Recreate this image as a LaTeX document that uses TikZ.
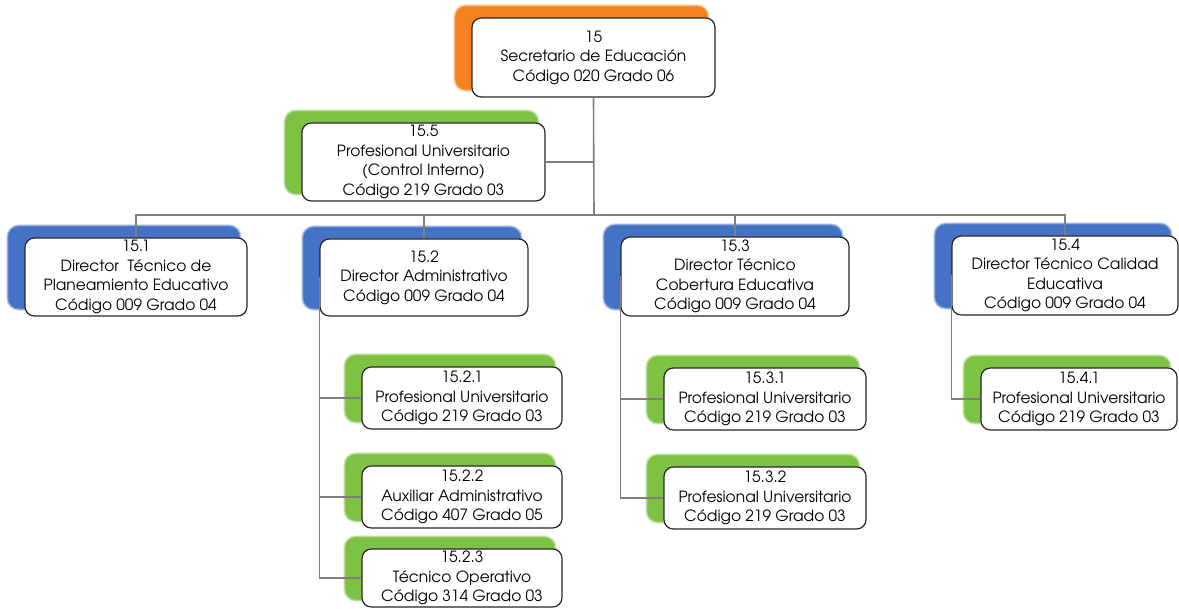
\documentclass[tikz,border=0pt]{standalone}
\usepackage{fontspec}
\setmainfont{texgyreadventor}[Extension=.otf,UprightFont=*-regular,BoldFont=*-bold]
\usetikzlibrary{backgrounds}
\definecolor{naranja}{RGB}{245,130,32}
\definecolor{azul}{RGB}{68,114,196}
\definecolor{verde}{RGB}{125,194,66}
\definecolor{linea}{RGB}{127,127,127}
\tikzset{
  cargo/.style 2 args={draw=black!85, fill=white, rounded corners=7pt, line width=0.9pt,
    align=center, inner sep=0pt, minimum width={#1*0.75pt}, minimum height={#2*0.75pt},
    font=\fontsize{11.6}{14.6}\selectfont},
  conector/.style={draw=linea, line width=1.2pt}
}
% sombra de color detras de cada cargo
\newcommand{\sombra}[2]{%
  \fill[#2!30, rounded corners=9pt] ([shift={(-18,-13)}]#1.north west) rectangle ([shift={(-6,-6)}]#1.south east);
  \fill[#2!70, rounded corners=8.5pt] ([shift={(-17,-12)}]#1.north west) rectangle ([shift={(-7,-7)}]#1.south east);
  \fill[#2, rounded corners=8pt] ([shift={(-16,-11)}]#1.north west) rectangle ([shift={(-8,-8)}]#1.south east);}
\begin{document}
\begin{tikzpicture}[x=0.75pt, y=-0.75pt]
\useasboundingbox (0,0) rectangle (1179,609);
% Secretario
\node[cargo={243}{79}] (n15) at (593.5,57.5) {15\\Secretario de Educación\\Código 020 Grado 06};
% Control interno
\node[cargo={243}{78}] (n155) at (423.5,162) {15.5\\Profesional Universitario\\(Control Interno)\\Código 219 Grado 03};
% Directores
\node[cargo={222}{78}] (n151) at (136,277) {15.1\\Director~ Técnico de\\Planeamiento Educativo\\Código 009 Grado 04};
\node[cargo={208}{77}] (n152) at (424,277.5) {15.2\\Director Administrativo\\Código 009 Grado 04};
\node[cargo={228}{79}] (n153) at (735,276.5) {15.3\\Director Técnico\\Cobertura Educativa\\Código 009 Grado 04};
\node[cargo={226}{79}] (n154) at (1065,275.5) {15.4\\Director Técnico Calidad\\Educativa\\Código 009 Grado 04};
% Dependencias
\node[cargo={200}{62}] (n1521) at (462,398) {15.2.1\\Profesional Universitario\\Código 219 Grado 03};
\node[cargo={200}{62}] (n1522) at (462,497) {15.2.2\\Auxiliar Administrativo\\Código 407 Grado 05};
\node[cargo={200}{58}] (n1523) at (462,578) {15.2.3\\Técnico Operativo\\Código 314 Grado 03};
\node[cargo={202}{62}] (n1531) at (765,399) {15.3.1\\Profesional Universitario\\Código 219 Grado 03};
\node[cargo={202}{62}] (n1532) at (765,498) {15.3.2\\Profesional Universitario\\Código 219 Grado 03};
\node[cargo={196}{62}] (n1541) at (1079,399) {15.4.1\\Profesional Universitario\\Código 219 Grado 03};
% sombras
\begin{pgfonlayer}{background}
\foreach \n/\c in {n15/naranja,n155/verde,n151/azul,n152/azul,n153/azul,n154/azul,
  n1521/verde,n1522/verde,n1523/verde,n1531/verde,n1532/verde,n1541/verde}
  {\sombra{\n}{\c}}
\end{pgfonlayer}
% lineas
\coordinate (bus) at (594,215);
\draw[conector] (n15.south) -- (bus);
\draw[conector] (n155.east) -- (n155.east -| bus);
\draw[conector] (n151.north) |- (bus) -| (n154.north);
\draw[conector] (n152.north) -- (n152.north |- bus);
\draw[conector] (n153.north) -- (n153.north |- bus);
\draw[conector] (n152.west) |- (n1523.west);
\draw[conector] (n152.west |- n1521.west) -- (n1521.west);
\draw[conector] (n152.west |- n1522.west) -- (n1522.west);
\draw[conector] (n153.west) |- (n1532.west);
\draw[conector] (n153.west |- n1531.west) -- (n1531.west);
\draw[conector] (n154.west) |- (n1541.west);
\end{tikzpicture}
\end{document}
